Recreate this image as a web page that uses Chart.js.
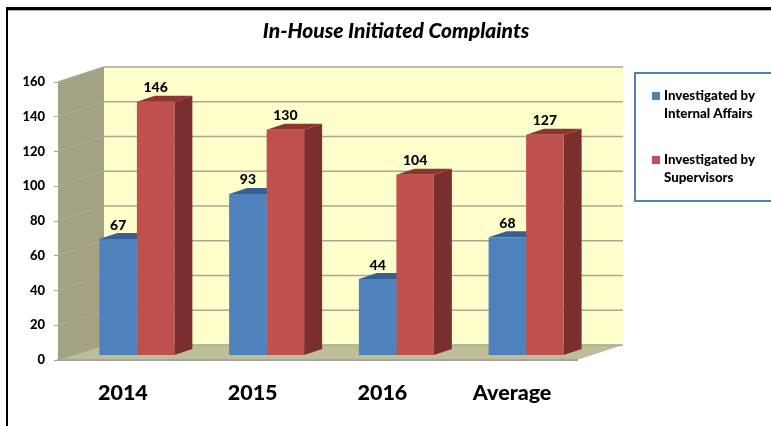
<!DOCTYPE html>
<html>
<head>
<meta charset="utf-8">
<title>In-House Initiated Complaints</title>
<script src="https://cdn.jsdelivr.net/npm/chart.js@4/dist/chart.umd.min.js"></script>
<style>
  html, body { margin: 0; padding: 0; background: #fff; }
  canvas { display: block; }
</style>
</head>
<body>
<canvas id="complaintsChart" width="771" height="426"></canvas>
<script>
const chartTitle = 'In-House Initiated Complaints';
const categories = ['2014', '2015', '2016', 'Average'];
const internalAffairs = [67, 93, 44, 68];
const supervisors = [146, 130, 104, 127];
const internalAffairsLabel = ['Investigated by', 'Internal Affairs'];
const supervisorsLabel = ['Investigated by', 'Supervisors'];

const FONT = 'Lato, "Open Sans", sans-serif';
const WALL = { dx: 46, dy: -15 };   // how far the back wall sits behind the axes
const BAR = { dx: 14, dy: -4.5 };   // how far the bars sit in front of the wall
const SIDE = { dx: 18, dy: -6 };    // depth of a bar

function poly(ctx, color, points) {
    ctx.fillStyle = color;
    ctx.beginPath();
    points.forEach((p, i) => i ? ctx.lineTo(p[0], p[1]) : ctx.moveTo(p[0], p[1]));
    ctx.closePath();
    ctx.fill();
}

const box3d = {
    id: 'box3d',
    beforeDraw(chart) {
        const ctx = chart.ctx;
        const a = chart.chartArea;
        const y = chart.scales.y;

        // picture frame
        ctx.fillStyle = '#000';
        ctx.fillRect(6, 7, 765, 3);
        ctx.fillRect(6, 7, 2, 419);
        ctx.fillStyle = '#aaa';
        ctx.fillRect(8, 10, 763, 1);

        const bx = WALL.dx, by = WALL.dy;
        poly(ctx, '#FFFFCC', [[a.left + bx, a.top + by], [a.right + bx, a.top + by], [a.right + bx, a.bottom + by], [a.left + bx, a.bottom + by]]);
        poly(ctx, '#A3A283', [[a.left, a.top], [a.left + bx, a.top + by], [a.left + bx, a.bottom + by], [a.left, a.bottom]]);
        poly(ctx, '#BEBE98', [[a.left, a.bottom], [a.left + bx, a.bottom + by], [a.right + bx, a.bottom + by], [a.right, a.bottom]]);

        // grid lines run up the side wall and across the back
        ctx.strokeStyle = '#A8A897';
        ctx.lineWidth = 1.5;
        y.ticks.forEach(t => {
            const py = y.getPixelForValue(t.value);
            ctx.beginPath();
            ctx.moveTo(a.left, py);
            ctx.lineTo(a.left + bx, py + by);
            ctx.lineTo(a.right + bx, py + by);
            ctx.stroke();
        });
    },
    // Chart.js paints the first dataset last, so the side and top faces all go
    // down first, blue before red, and the red fronts then hide the blue sides.
    beforeDatasetsDraw(chart) {
        const ctx = chart.ctx;
        ctx.save();
        ctx.translate(BAR.dx, BAR.dy);
        chart.data.datasets.forEach((ds, i) => {
            chart.getDatasetMeta(i).data.forEach(bar => {
                const l = bar.x - bar.width / 2, r = bar.x + bar.width / 2;
                poly(ctx, ds.sideColor, [[r, bar.y], [r + SIDE.dx, bar.y + SIDE.dy], [r + SIDE.dx, bar.base + SIDE.dy], [r, bar.base]]);
                poly(ctx, ds.topColor, [[l, bar.y], [l + SIDE.dx, bar.y + SIDE.dy], [r + SIDE.dx, bar.y + SIDE.dy], [r, bar.y]]);
            });
        });
    },
    afterDatasetsDraw(chart) {
        const ctx = chart.ctx;
        ctx.restore();
        ctx.save();
        ctx.fillStyle = '#000';
        ctx.textAlign = 'center';
        ctx.textBaseline = 'middle';
        ctx.font = '900 14px ' + FONT;
        chart.data.datasets.forEach((ds, i) => {
            chart.getDatasetMeta(i).data.forEach((bar, j) => {
                ctx.fillText(ds.data[j], bar.x + BAR.dx, bar.y + BAR.dy - 14);
            });
        });

        // title
        ctx.font = 'italic 900 21px ' + FONT;
        ctx.fillText(chartTitle, 396, 31);

        // legend box
        ctx.strokeStyle = '#4F81BD';
        ctx.lineWidth = 2;
        ctx.strokeRect(635, 73, 140, 128);
        ctx.textAlign = 'left';
        ctx.font = '900 13.3px ' + FONT;
        const rows = [96, 160];
        chart.data.datasets.forEach((ds, i) => {
            ctx.fillStyle = ds.backgroundColor;
            ctx.fillRect(652, rows[i] - 4, 8, 8);
            ctx.fillStyle = '#000';
            ds.label.forEach((line, k) => ctx.fillText(line, 664, rows[i] + k * 17.5));
        });
        ctx.restore();
    }
};

new Chart(document.getElementById('complaintsChart'), {
    type: 'bar',
    data: {
        labels: categories,
        datasets: [
            { label: internalAffairsLabel, data: internalAffairs, backgroundColor: '#4F81BD', sideColor: '#385D8A', topColor: '#376092' },
            { label: supervisorsLabel, data: supervisors, backgroundColor: '#C0504D', sideColor: '#7A2F2E', topColor: '#8C3533' }
        ]
    },
    plugins: [box3d],
    options: {
        responsive: false,
        animation: false,
        layout: { padding: { left: 0, right: 194, top: 82, bottom: 0 } },
        datasets: { bar: { categoryPercentage: 0.578, barPercentage: 1 } },
        plugins: { legend: { display: false }, title: { display: false }, tooltip: { enabled: false } },
        scales: {
            x: {
                afterFit(scale) { scale.height = 66; },
                grid: { display: false },
                border: { color: '#A6A6A6', width: 2 },
                ticks: { color: '#000', padding: 12, font: { family: FONT, size: 21.5, weight: '900' } }
            },
            y: {
                min: 0,
                max: 160,
                afterFit(scale) { scale.width = 58; },
                grid: { drawOnChartArea: false, color: '#A6A6A6', tickLength: 4 },
                border: { display: false },
                ticks: { stepSize: 20, color: '#000', padding: 9, font: { family: FONT, size: 13, weight: '900' } }
            }
        }
    }
});
</script>
</body>
</html>
